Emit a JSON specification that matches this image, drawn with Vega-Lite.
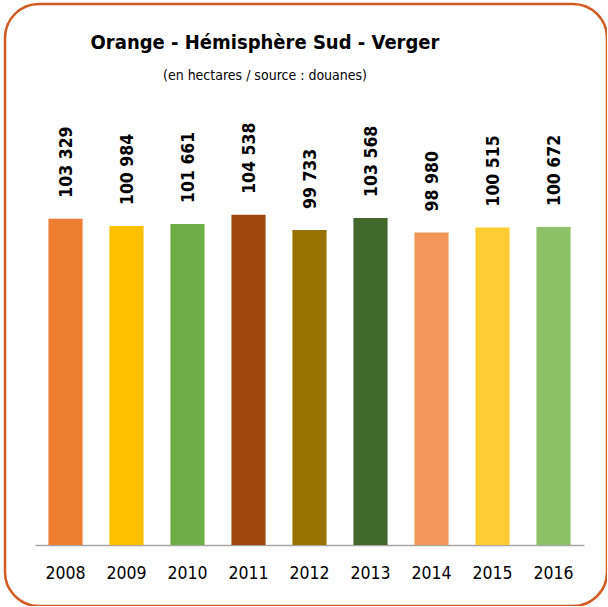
{
  "$schema": "https://vega.github.io/schema/vega-lite/v6.json",
  "autosize": "none",
  "padding": {"left": 5, "top": 4, "right": 0, "bottom": 0},
  "width": 602,
  "height": 602,
  "background": "white",
  "config": {
    "view": {"stroke": "#D35A22", "strokeWidth": 2.5, "cornerRadius": 34},
    "font": "DejaVu Sans Condensed, sans-serif",
    "locale": {"number": {"decimal": ",", "thousands": " ", "grouping": [3], "currency": ["", " €"]}}
  },
  "title": {
    "text": "Orange - Hémisphère Sud - Verger",
    "subtitle": "(en hectares / source : douanes)",
    "anchor": "middle",
    "frame": "group",
    "offset": -79,
    "dx": -41,
    "font": "DejaVu Sans Condensed, sans-serif",
    "fontSize": 20,
    "fontWeight": "bold",
    "color": "#000000",
    "subtitleFont": "DejaVu Sans Condensed, sans-serif",
    "subtitleFontSize": 14,
    "subtitleColor": "#000000",
    "subtitlePadding": 16
  },
  "data": {
    "values": [
      {"year": "2008", "value": 103329},
      {"year": "2009", "value": 100984},
      {"year": "2010", "value": 101661},
      {"year": "2011", "value": 104538},
      {"year": "2012", "value": 99733},
      {"year": "2013", "value": 103568},
      {"year": "2014", "value": 98980},
      {"year": "2015", "value": 100515},
      {"year": "2016", "value": 100672}
    ]
  },
  "encoding": {
    "x": {
      "field": "year",
      "type": "nominal",
      "sort": null,
      "scale": {"range": [30, 579], "paddingInner": 0.44, "paddingOuter": 0.22},
      "axis": {
        "title": null,
        "labelAngle": 0,
        "labelFont": "DejaVu Sans Condensed, sans-serif",
        "labelFontSize": 17.5,
        "labelColor": "#000000",
        "labelPadding": 19,
        "ticks": false,
        "domainColor": "#A6A6A6",
        "domainWidth": 1.5,
        "offset": -61
      }
    },
    "y": {
      "field": "value",
      "type": "quantitative",
      "scale": {"domain": [0, 120000], "range": [541, 162], "nice": false},
      "axis": null
    }
  },
  "layer": [
    {
      "mark": {"type": "bar"},
      "encoding": {
        "color": {
          "field": "year",
          "type": "nominal",
          "sort": null,
          "scale": {"range": ["#ED7D31", "#FFC000", "#70AD47", "#9E480E", "#997300", "#43682B", "#F1975A", "#FFCD33", "#8CC168"]},
          "legend": null
        }
      }
    },
    {
      "mark": {"type": "text", "angle": -90, "align": "left", "baseline": "middle", "dx": 21, "dy": 1, "fontSize": 17.5, "fontWeight": "bold", "font": "DejaVu Sans Condensed, sans-serif", "color": "#000000"},
      "encoding": {
        "text": {"field": "value", "type": "quantitative", "format": ","}
      }
    }
  ]
}
